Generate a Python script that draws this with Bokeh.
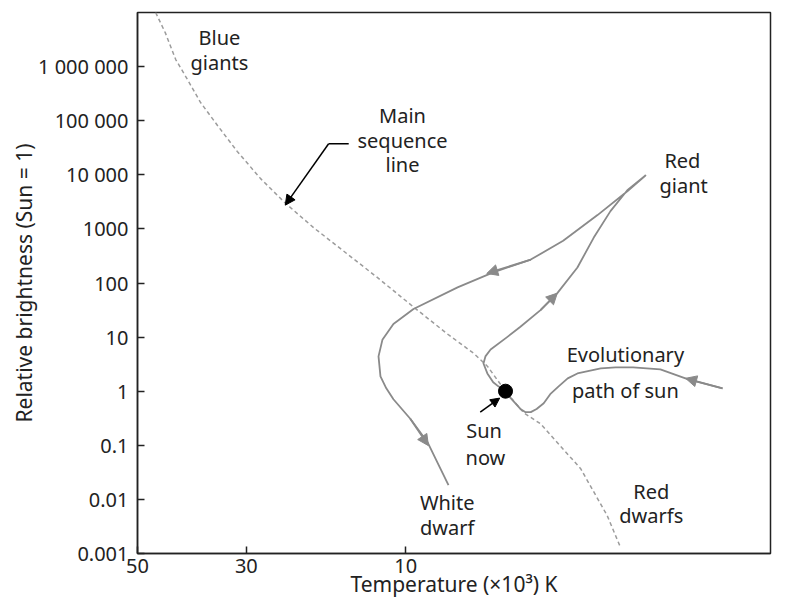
from bokeh.plotting import figure
from bokeh.models import FixedTicker, Arrow, NormalHead
from bokeh.core.properties import value
from bokeh.embed import file_html
from bokeh.resources import INLINE

FONT = "Noto Sans"

# ---- axis ticks (x is a schematic temperature-position axis) ----
x_tick_pos = [0, 16.8, 41.4]
x_tick_labels = ["50", "30", "10"]
y_ticks = [1e-3, 1e-2, 1e-1, 1.0, 10.0, 100.0, 1000.0, 1e4, 1e5, 1e6]
y_tick_labels = ["0.001", "0.01", "0.1", "1", "10", "100", "1000",
                 "10 000", "100 000", "1 000 000"]

# ---- main sequence line (dashed) ----
ms_pos = [2.8, 4.3, 5.9, 7.7, 9.7, 12.4, 15.4, 19.0, 22.8, 27.2, 31.8, 37.0,
          42.6, 47.8, 51.9, 54.0, 56.8, 59.6, 62.2, 68.4, 72.5, 74.5]
ms_bright = [1e7, 4.2e6, 1.35e6, 5.8e5, 2.2e5, 8.0e4, 2.7e4, 8500, 3000, 1050,
             390, 127, 36, 11.5, 5.0, 2.9, 1.0, 0.40, 0.25, 0.037, 0.005, 0.00134]

# ---- evolutionary path of the sun ----
path_pos = [90.3, 85.0, 80.7, 76.5, 73.8, 71.5, 67.9, 66.4, 65.0, 63.7, 62.7,
            61.6, 60.7, 59.9, 59.1, 57.6, 56.8,
            55.7, 54.9, 54.0, 53.4, 53.7, 54.5, 57.1, 59.1, 62.2, 64.8, 67.9,
            70.4, 73.0, 75.6, 78.4,
            75.6, 71.0, 65.7, 60.7, 54.9, 49.4, 42.6, 39.5, 37.8, 37.2, 37.5,
            38.4, 39.5, 42.1, 44.8, 46.3, 48.0]
path_bright = [1.13, 1.66, 2.53, 2.75, 2.75, 2.64, 2.13, 1.73, 1.23, 0.88, 0.60,
               0.47, 0.41, 0.41, 0.47, 0.745, 1.0,
               1.23, 1.46, 2.13, 3.25, 4.4, 5.9, 10.1, 15.5, 31.6, 65, 193,
               684, 2130, 5170, 9700,
               4950, 1800, 603, 271, 157, 83, 33, 17.5, 8.9, 4.4, 1.88,
               1.13, 0.71, 0.31, 0.112, 0.048, 0.0183]

# direction arrows on the path
arr_x0 = [90.3, 62.2, 60.7, 42.1]
arr_y0 = [1.13, 31.6, 271, 0.31]
arr_x1 = [84.6, 64.8, 53.9, 44.9]
arr_y1 = [1.73, 65, 150, 0.0986]

# sun now
sun_pos = [56.8]
sun_bright = [1.0]
sun_ptr_x = [52.9, 55.9]
sun_ptr_y = [0.41, 0.745]

# main-sequence pointer
ms_ptr_x = [32.6, 29.5, 22.8]
ms_ptr_y = [3.74e4, 3.74e4, 2750]

# annotation texts
lab_text = ["Blue", "giants", "Main", "sequence", "line", "Red", "giant",
            "Evolutionary", "path of sun", "Sun", "now", "White", "dwarf",
            "Red", "dwarfs"]
lab_pos = [12.65, 12.65, 40.9, 40.9, 40.9, 84.1, 84.3, 75.3, 75.3, 53.5, 53.7,
           47.8, 47.8, 79.3, 79.3]
lab_bright = [3.4e6, 1.18e6, 1.27e5, 4.25e4, 1.55e4, 1.83e4, 6380, 4.75, 1.04,
              0.185, 0.059, 0.0086, 0.003, 0.0142, 0.005]

x_title = "Temperature (×10³) K"
y_title = "Relative brightness (Sun = 1)"

GRAY = "#8a8a8a"
DARK = "#222222"

W, H = 772, 600
p = figure(width=W, height=H, x_range=(0, 97.7), y_range=(1e-3, 1e7),
           y_axis_type="log", output_backend="svg", toolbar_location=None,
           min_border_left=137, min_border_right=2, min_border_top=12,
           min_border_bottom=46)

p.background_fill_color = "white"
p.border_fill_color = "white"
p.outline_line_color = DARK
p.outline_line_width = 1.5
p.xgrid.visible = False
p.ygrid.visible = False

for ax in (p.xaxis[0], p.yaxis[0]):
    ax.axis_line_color = DARK
    ax.axis_line_width = 1.5
    ax.major_tick_line_color = DARK
    ax.major_tick_line_width = 1.5
    ax.minor_tick_line_color = None
    ax.major_tick_out = 0
    ax.major_tick_in = 7
    ax.major_label_text_font = FONT
    ax.major_label_text_font_size = "20px"
    ax.major_label_text_color = DARK
    ax.axis_label_text_font = FONT
    ax.axis_label_text_font_size = "21px"
    ax.axis_label_text_font_style = "normal"
    ax.axis_label_text_color = DARK

p.xaxis.ticker = FixedTicker(ticks=x_tick_pos)
p.xaxis.major_label_overrides = {t: l for t, l in zip(x_tick_pos, x_tick_labels)}
p.xaxis.major_label_standoff = 5
p.xaxis.axis_label = x_title
p.xaxis.axis_label_standoff = -6

p.yaxis.ticker = FixedTicker(ticks=y_ticks)
p.yaxis.major_label_overrides = {t: l for t, l in zip(y_ticks, y_tick_labels)}
p.yaxis.major_label_standoff = 9
p.yaxis.axis_label = y_title
p.yaxis.axis_label_standoff = -3

# main sequence
p.line(ms_pos, ms_bright, line_color="#9c9c9c", line_width=1.5, line_dash="4 3")

# evolutionary path
p.line(path_pos, path_bright, line_color=GRAY, line_width=1.8, line_join="round")
for x0, y0, x1, y1 in zip(arr_x0, arr_y0, arr_x1, arr_y1):
    p.add_layout(Arrow(end=NormalHead(size=11, fill_color=GRAY, line_color=GRAY),
                       x_start=x0, y_start=y0, x_end=x1, y_end=y1,
                       line_color=GRAY, line_width=1.8))

# sun now
p.scatter(sun_pos, sun_bright, size=14, color="black")
p.add_layout(Arrow(end=NormalHead(size=9, fill_color="black", line_color="black"),
                   x_start=sun_ptr_x[0], y_start=sun_ptr_y[0],
                   x_end=sun_ptr_x[1], y_end=sun_ptr_y[1],
                   line_color="black", line_width=1.5))

# main sequence pointer
p.line(ms_ptr_x[:2], ms_ptr_y[:2], line_color="black", line_width=1.5)
p.add_layout(Arrow(end=NormalHead(size=10, fill_color="black", line_color="black"),
                   x_start=ms_ptr_x[1], y_start=ms_ptr_y[1],
                   x_end=ms_ptr_x[2], y_end=ms_ptr_y[2],
                   line_color="black", line_width=1.5))

# texts
p.text(x=lab_pos, y=lab_bright, text=lab_text, text_font=value(FONT),
       text_font_size="20px", text_align="center", text_baseline="middle",
       text_color=DARK)

open("out.html", "w").write(file_html(p, INLINE))
